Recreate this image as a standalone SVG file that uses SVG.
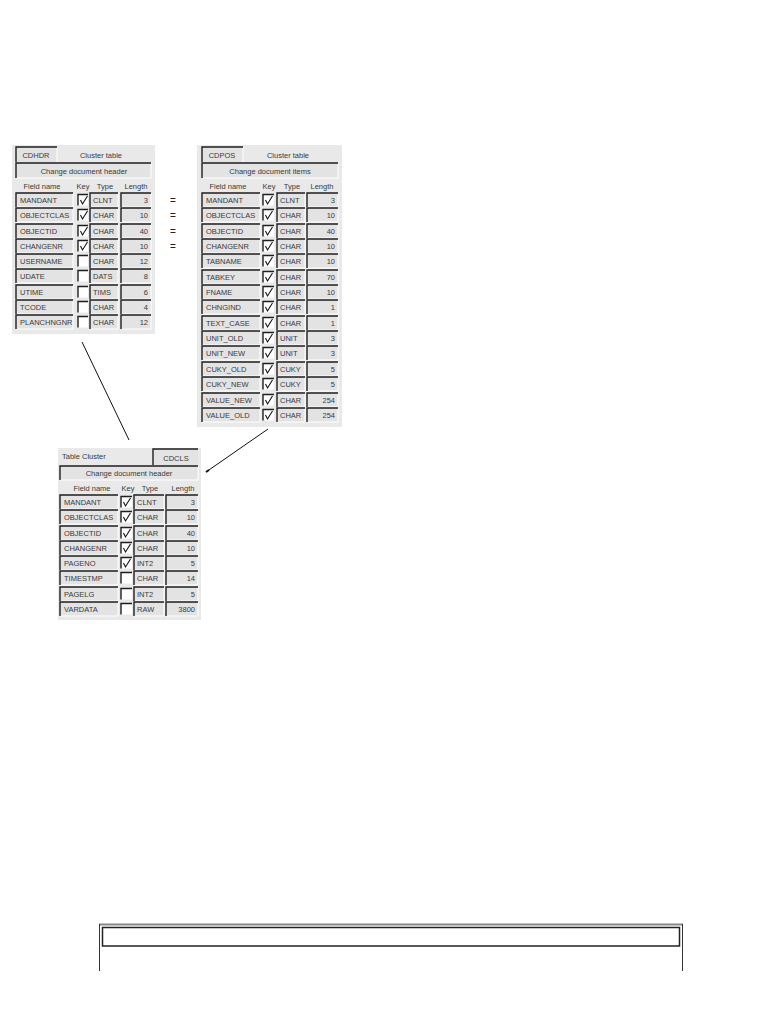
<svg xmlns="http://www.w3.org/2000/svg" xmlns:xlink="http://www.w3.org/1999/xlink" width="781" height="1011" viewBox="0 0 781 1011">
<style>
text{font-family:"Liberation Sans",Arial,sans-serif;font-size:7.5px;fill:#3a3a3a}
.m{text-anchor:middle}
.r{text-anchor:end}
.eq{font-size:10px;fill:#222}
.panel{fill:#e9e9e9}
.f{fill:#e3e3e3}
.kb{fill:#ffffff}
.dk{fill:none;stroke:#1e1e1e;stroke-width:1.4}
.lt{fill:none;stroke:#ffffff;stroke-width:1}
.ck{fill:none;stroke:#111;stroke-width:1.1}
.conn{stroke:#111;stroke-width:1;fill:none}
</style>
<defs>
<path id="ck" class="ck" d="M2.5 5.5 L4.5 9.5 L9.5 1.5"/>
<g id="rowA">
<rect class="f" x="16" y="0" width="57" height="14"/><path class="lt" d="M16 14H73V0"/><path class="dk" d="M16 14V0H73"/>
<rect class="kb" x="78" y="1.5" width="10" height="11"/><path class="dk" d="M78 12.5V1.5H88"/>
<rect class="f" x="90" y="0" width="28" height="14"/><path class="lt" d="M90 14H118V0"/><path class="dk" d="M90 14V0H118"/>
<rect class="f" x="121" y="0" width="30" height="14"/><path class="lt" d="M121 14H151V0"/><path class="dk" d="M121 14V0H151"/>
</g>
<g id="rowB">
<rect class="f" x="202" y="0" width="58" height="14"/><path class="lt" d="M202 14H260V0"/><path class="dk" d="M202 14V0H260"/>
<rect class="kb" x="263" y="1.5" width="11" height="11"/><path class="dk" d="M263 12.5V1.5H274"/>
<rect class="f" x="277" y="0" width="28" height="14"/><path class="lt" d="M277 14H305V0"/><path class="dk" d="M277 14V0H305"/>
<rect class="f" x="307" y="0" width="31" height="14"/><path class="lt" d="M307 14H338V0"/><path class="dk" d="M307 14V0H338"/>
</g>
<g id="rowC">
<rect class="f" x="60" y="0" width="58" height="14"/><path class="lt" d="M60 14H118V0"/><path class="dk" d="M60 14V0H118"/>
<rect class="kb" x="121" y="1.5" width="11" height="11"/><path class="dk" d="M121 12.5V1.5H132"/>
<rect class="f" x="134" y="0" width="30" height="14"/><path class="lt" d="M134 14H164V0"/><path class="dk" d="M134 14V0H164"/>
<rect class="f" x="166" y="0" width="32" height="14"/><path class="lt" d="M166 14H198V0"/><path class="dk" d="M166 14V0H198"/>
</g>
</defs>
<rect width="781" height="1011" fill="#ffffff"/>

<g id="connectors">
<line class="conn" x1="82" y1="342" x2="129" y2="440"/>
<line class="conn" x1="268" y1="429" x2="206" y2="472"/>
<line x1="206" y1="472" x2="209" y2="470" stroke="#111" stroke-width="2"/>
</g>

<g id="CDHDR">
<rect class="panel" x="12" y="145" width="143" height="189"/>
<rect class="f" x="16" y="147" width="41" height="15"/><path class="lt" d="M57 147V162"/><path class="dk" d="M16 162V147H57"/>
<text class="m" x="36" y="158">CDHDR</text>
<text class="m" x="101" y="158">Cluster table</text>
<rect class="f" x="16" y="163" width="135" height="15"/><path class="lt" d="M16 178H151V163"/><path class="dk" d="M16 178V163H151"/>
<text class="m" x="84" y="174">Change document header</text>
<text class="m" x="42" y="189">Field name</text><text class="m" x="83" y="189">Key</text><text class="m" x="105" y="189">Type</text><text class="m" x="136" y="189">Length</text>
<use xlink:href="#rowA" y="193"/><use xlink:href="#ck" x="78" y="194.5"/>
<text x="20" y="203">MANDANT</text><text x="93" y="203">CLNT</text><text class="r" x="148" y="203">3</text>
<use xlink:href="#rowA" y="208"/><use xlink:href="#ck" x="78" y="209.5"/>
<text x="20" y="218">OBJECTCLAS</text><text x="93" y="218">CHAR</text><text class="r" x="148" y="218">10</text>
<use xlink:href="#rowA" y="224"/><use xlink:href="#ck" x="78" y="225.5"/>
<text x="20" y="234">OBJECTID</text><text x="93" y="234">CHAR</text><text class="r" x="148" y="234">40</text>
<use xlink:href="#rowA" y="239"/><use xlink:href="#ck" x="78" y="240.5"/>
<text x="20" y="249">CHANGENR</text><text x="93" y="249">CHAR</text><text class="r" x="148" y="249">10</text>
<use xlink:href="#rowA" y="254"/>
<text x="20" y="264">USERNAME</text><text x="93" y="264">CHAR</text><text class="r" x="148" y="264">12</text>
<use xlink:href="#rowA" y="269"/>
<text x="20" y="279">UDATE</text><text x="93" y="279">DATS</text><text class="r" x="148" y="279">8</text>
<use xlink:href="#rowA" y="285"/>
<text x="20" y="295">UTIME</text><text x="93" y="295">TIMS</text><text class="r" x="148" y="295">6</text>
<use xlink:href="#rowA" y="300"/>
<text x="20" y="310">TCODE</text><text x="93" y="310">CHAR</text><text class="r" x="148" y="310">4</text>
<use xlink:href="#rowA" y="315"/>
<text x="20" y="325">PLANCHNGNR</text><text x="93" y="325">CHAR</text><text class="r" x="148" y="325">12</text>
</g>

<g id="equals">
<text class="m eq" x="173" y="203.5">=</text>
<text class="m eq" x="173" y="218.5">=</text>
<text class="m eq" x="173" y="234.5">=</text>
<text class="m eq" x="173" y="249.5">=</text>
</g>

<g id="CDPOS">
<rect class="panel" x="197" y="145" width="145" height="282"/>
<rect class="f" x="202" y="147" width="41" height="15"/><path class="lt" d="M243 147V162"/><path class="dk" d="M202 162V147H243"/>
<text class="m" x="222" y="158">CDPOS</text>
<text class="m" x="288" y="158">Cluster table</text>
<rect class="f" x="202" y="163" width="136" height="15"/><path class="lt" d="M202 178H338V163"/><path class="dk" d="M202 178V163H338"/>
<text class="m" x="270" y="174">Change document items</text>
<text class="m" x="228" y="189">Field name</text><text class="m" x="269" y="189">Key</text><text class="m" x="292" y="189">Type</text><text class="m" x="322" y="189">Length</text>
<use xlink:href="#rowB" y="193"/><use xlink:href="#ck" x="263" y="194.5"/>
<text x="206" y="203">MANDANT</text><text x="280" y="203">CLNT</text><text class="r" x="335" y="203">3</text>
<use xlink:href="#rowB" y="208"/><use xlink:href="#ck" x="263" y="209.5"/>
<text x="206" y="218">OBJECTCLAS</text><text x="280" y="218">CHAR</text><text class="r" x="335" y="218">10</text>
<use xlink:href="#rowB" y="224"/><use xlink:href="#ck" x="263" y="225.5"/>
<text x="206" y="234">OBJECTID</text><text x="280" y="234">CHAR</text><text class="r" x="335" y="234">40</text>
<use xlink:href="#rowB" y="239"/><use xlink:href="#ck" x="263" y="240.5"/>
<text x="206" y="249">CHANGENR</text><text x="280" y="249">CHAR</text><text class="r" x="335" y="249">10</text>
<use xlink:href="#rowB" y="254"/><use xlink:href="#ck" x="263" y="255.5"/>
<text x="206" y="264">TABNAME</text><text x="280" y="264">CHAR</text><text class="r" x="335" y="264">10</text>
<use xlink:href="#rowB" y="270"/><use xlink:href="#ck" x="263" y="271.5"/>
<text x="206" y="280">TABKEY</text><text x="280" y="280">CHAR</text><text class="r" x="335" y="280">70</text>
<use xlink:href="#rowB" y="285"/><use xlink:href="#ck" x="263" y="286.5"/>
<text x="206" y="295">FNAME</text><text x="280" y="295">CHAR</text><text class="r" x="335" y="295">10</text>
<use xlink:href="#rowB" y="300"/><use xlink:href="#ck" x="263" y="301.5"/>
<text x="206" y="310">CHNGIND</text><text x="280" y="310">CHAR</text><text class="r" x="335" y="310">1</text>
<use xlink:href="#rowB" y="316"/><use xlink:href="#ck" x="263" y="317.5"/>
<text x="206" y="326">TEXT_CASE</text><text x="280" y="326">CHAR</text><text class="r" x="335" y="326">1</text>
<use xlink:href="#rowB" y="331"/><use xlink:href="#ck" x="263" y="332.5"/>
<text x="206" y="341">UNIT_OLD</text><text x="280" y="341">UNIT</text><text class="r" x="335" y="341">3</text>
<use xlink:href="#rowB" y="346"/><use xlink:href="#ck" x="263" y="347.5"/>
<text x="206" y="356">UNIT_NEW</text><text x="280" y="356">UNIT</text><text class="r" x="335" y="356">3</text>
<use xlink:href="#rowB" y="362"/><use xlink:href="#ck" x="263" y="363.5"/>
<text x="206" y="372">CUKY_OLD</text><text x="280" y="372">CUKY</text><text class="r" x="335" y="372">5</text>
<use xlink:href="#rowB" y="377"/><use xlink:href="#ck" x="263" y="378.5"/>
<text x="206" y="387">CUKY_NEW</text><text x="280" y="387">CUKY</text><text class="r" x="335" y="387">5</text>
<use xlink:href="#rowB" y="393"/><use xlink:href="#ck" x="263" y="394.5"/>
<text x="206" y="403">VALUE_NEW</text><text x="280" y="403">CHAR</text><text class="r" x="335" y="403">254</text>
<use xlink:href="#rowB" y="408"/><use xlink:href="#ck" x="263" y="409.5"/>
<text x="206" y="418">VALUE_OLD</text><text x="280" y="418">CHAR</text><text class="r" x="335" y="418">254</text>
</g>

<g id="CDCLS">
<rect class="panel" x="58" y="448" width="143" height="172"/>
<text x="62" y="459">Table Cluster</text>
<rect class="f" x="153" y="449" width="45" height="16"/><path class="dk" d="M153 465V449H198"/>
<text class="m" x="176" y="461">CDCLS</text>
<rect class="f" x="60" y="466" width="138" height="14"/><path class="lt" d="M60 480H198V466"/><path class="dk" d="M60 480V466H198"/>
<text class="m" x="129" y="476">Change document header</text>
<text class="m" x="92" y="491">Field name</text><text class="m" x="128" y="491">Key</text><text class="m" x="150" y="491">Type</text><text class="m" x="183" y="491">Length</text>
<use xlink:href="#rowC" y="495"/><use xlink:href="#ck" x="121" y="496.5"/>
<text x="64" y="505">MANDANT</text><text x="137" y="505">CLNT</text><text class="r" x="195" y="505">3</text>
<use xlink:href="#rowC" y="510"/><use xlink:href="#ck" x="121" y="511.5"/>
<text x="64" y="520">OBJECTCLAS</text><text x="137" y="520">CHAR</text><text class="r" x="195" y="520">10</text>
<use xlink:href="#rowC" y="526"/><use xlink:href="#ck" x="121" y="527.5"/>
<text x="64" y="536">OBJECTID</text><text x="137" y="536">CHAR</text><text class="r" x="195" y="536">40</text>
<use xlink:href="#rowC" y="541"/><use xlink:href="#ck" x="121" y="542.5"/>
<text x="64" y="551">CHANGENR</text><text x="137" y="551">CHAR</text><text class="r" x="195" y="551">10</text>
<use xlink:href="#rowC" y="556"/><use xlink:href="#ck" x="121" y="557.5"/>
<text x="64" y="566">PAGENO</text><text x="137" y="566">INT2</text><text class="r" x="195" y="566">5</text>
<use xlink:href="#rowC" y="571"/>
<text x="64" y="581">TIMESTMP</text><text x="137" y="581">CHAR</text><text class="r" x="195" y="581">14</text>
<use xlink:href="#rowC" y="587"/>
<text x="64" y="597">PAGELG</text><text x="137" y="597">INT2</text><text class="r" x="195" y="597">5</text>
<use xlink:href="#rowC" y="602"/>
<text x="64" y="612">VARDATA</text><text x="137" y="612">RAW</text><text class="r" x="195" y="612">3800</text>
</g>

<g id="footer">
<line x1="99" y1="924.5" x2="683" y2="924.5" stroke="#888" stroke-width="2"/>
<line x1="99.5" y1="924" x2="99.5" y2="971" stroke="#333" stroke-width="1"/>
<line x1="682.5" y1="924" x2="682.5" y2="971" stroke="#333" stroke-width="1"/>
<rect x="102.5" y="927.5" width="577" height="18.5" fill="#fff" stroke="#222" stroke-width="1.5"/>
</g>
</svg>
